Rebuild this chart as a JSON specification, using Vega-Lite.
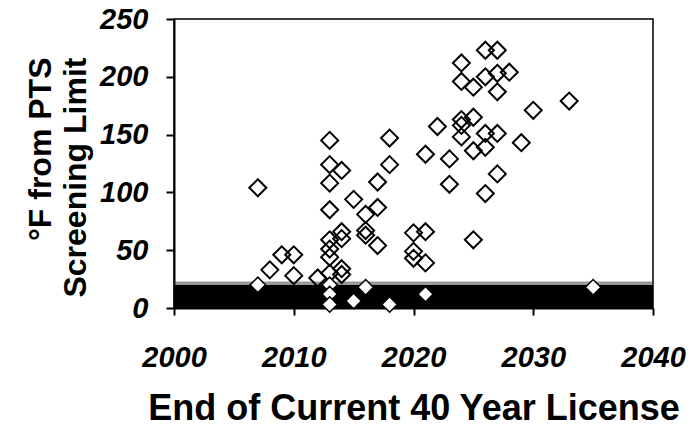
{
  "$schema": "https://vega.github.io/schema/vega-lite/v6.json",
  "width": 479,
  "height": 289,
  "autosize": {"type": "none"},
  "padding": {"left": 174, "top": 19, "right": 38, "bottom": 122},
  "background": "white",
  "config": {
    "font": "Liberation Sans",
    "view": {"stroke": "black", "strokeWidth": 1.5},
    "axis": {
      "grid": false,
      "domainColor": "black",
      "domainWidth": 2,
      "tickColor": "black",
      "tickWidth": 2,
      "labelFont": "Liberation Sans",
      "labelFontWeight": "bold",
      "labelFontStyle": "italic",
      "labelColor": "black",
      "labelFlush": false,
      "labelOverlap": false,
      "titleFont": "Liberation Sans",
      "titleFontWeight": "bold",
      "titleColor": "black"
    },
    "axisX": {
      "tickSize": 7,
      "labelFontSize": 29,
      "labelBaseline": "alphabetic",
      "labelPadding": 51,
      "titleFontSize": 36,
      "titleBaseline": "alphabetic",
      "titleY": 111
    },
    "axisY": {
      "tickSize": 8,
      "labelFontSize": 29,
      "labelPadding": 18,
      "titleFontSize": 32,
      "titleAngle": 270,
      "titleAlign": "right",
      "titleBaseline": "alphabetic",
      "titleX": -124,
      "titleY": 38,
      "titleLineHeight": 35
    }
  },
  "datasets": {
    "band": [{"start": 2000, "end": 2040, "low": 0, "high": 20}],
    "fringe": [{"start": 2000, "end": 2040, "low": 20, "high": 23}],
    "above": [
      {"year": 2007, "degF": 104},
      {"year": 2008, "degF": 33},
      {"year": 2009, "degF": 46},
      {"year": 2010, "degF": 46},
      {"year": 2010, "degF": 28},
      {"year": 2012, "degF": 26},
      {"year": 2013, "degF": 145},
      {"year": 2013, "degF": 124},
      {"year": 2013, "degF": 108},
      {"year": 2013, "degF": 85},
      {"year": 2013, "degF": 59},
      {"year": 2013, "degF": 51},
      {"year": 2013, "degF": 44},
      {"year": 2013, "degF": 30},
      {"year": 2014, "degF": 119},
      {"year": 2014, "degF": 66},
      {"year": 2014, "degF": 60},
      {"year": 2014, "degF": 34},
      {"year": 2014, "degF": 29},
      {"year": 2015, "degF": 94},
      {"year": 2016, "degF": 81},
      {"year": 2016, "degF": 67},
      {"year": 2016, "degF": 63},
      {"year": 2017, "degF": 109},
      {"year": 2017, "degF": 87},
      {"year": 2017, "degF": 54},
      {"year": 2018, "degF": 147},
      {"year": 2018, "degF": 124},
      {"year": 2020, "degF": 65},
      {"year": 2020, "degF": 49},
      {"year": 2020, "degF": 43},
      {"year": 2021, "degF": 66},
      {"year": 2021, "degF": 39},
      {"year": 2021, "degF": 133},
      {"year": 2022, "degF": 157},
      {"year": 2023, "degF": 129},
      {"year": 2023, "degF": 107},
      {"year": 2024, "degF": 212},
      {"year": 2024, "degF": 196},
      {"year": 2024, "degF": 163},
      {"year": 2024, "degF": 158},
      {"year": 2024, "degF": 148},
      {"year": 2025, "degF": 191},
      {"year": 2025, "degF": 165},
      {"year": 2025, "degF": 136},
      {"year": 2025, "degF": 59},
      {"year": 2026, "degF": 223},
      {"year": 2026, "degF": 200},
      {"year": 2026, "degF": 151},
      {"year": 2026, "degF": 139},
      {"year": 2026, "degF": 99},
      {"year": 2027, "degF": 223},
      {"year": 2027, "degF": 203},
      {"year": 2027, "degF": 187},
      {"year": 2027, "degF": 151},
      {"year": 2027, "degF": 116},
      {"year": 2028, "degF": 204},
      {"year": 2029, "degF": 143},
      {"year": 2030, "degF": 171},
      {"year": 2033, "degF": 179}
    ],
    "within": [
      {"year": 2007, "degF": 20},
      {"year": 2013, "degF": 20},
      {"year": 2013, "degF": 12},
      {"year": 2013, "degF": 3},
      {"year": 2015, "degF": 6},
      {"year": 2016, "degF": 18},
      {"year": 2018, "degF": 3},
      {"year": 2021, "degF": 12},
      {"year": 2035, "degF": 18}
    ]
  },
  "layer": [
    {
      "data": {"name": "band"},
      "mark": {"type": "rect", "color": "black"},
      "encoding": {
        "x": {"field": "start", "type": "quantitative", "scale": {"domain": [2000, 2040], "nice": false}, "axis": {"values": [2000, 2010, 2020, 2030, 2040], "format": "d"}, "title": "End of Current 40 Year License"},
        "x2": {"field": "end"},
        "y": {"field": "low", "type": "quantitative", "scale": {"domain": [0, 250], "nice": false}, "axis": {"values": [0, 50, 100, 150, 200, 250]}, "title": ["°F from PTS", "Screening Limit"]},
        "y2": {"field": "high"}
      }
    },
    {
      "data": {"name": "fringe"},
      "mark": {"type": "rect", "color": "#333333", "opacity": 0.5},
      "encoding": {
        "x": {"field": "start", "type": "quantitative", "title": "End of Current 40 Year License"},
        "x2": {"field": "end"},
        "y": {"field": "low", "type": "quantitative", "title": ["°F from PTS", "Screening Limit"]},
        "y2": {"field": "high"}
      }
    },
    {
      "data": {"name": "above"},
      "mark": {"type": "point", "shape": "diamond", "size": 289, "filled": false, "stroke": "black", "strokeWidth": 2, "opacity": 1},
      "encoding": {
        "x": {"field": "year", "type": "quantitative", "title": "End of Current 40 Year License"},
        "y": {"field": "degF", "type": "quantitative", "title": ["°F from PTS", "Screening Limit"]}
      }
    },
    {
      "data": {"name": "within"},
      "mark": {"type": "point", "shape": "diamond", "size": 240, "filled": true, "fill": "white", "stroke": "black", "strokeWidth": 1.5, "opacity": 1, "fillOpacity": 1},
      "encoding": {
        "x": {"field": "year", "type": "quantitative", "title": "End of Current 40 Year License"},
        "y": {"field": "degF", "type": "quantitative", "title": ["°F from PTS", "Screening Limit"]}
      }
    }
  ]
}
